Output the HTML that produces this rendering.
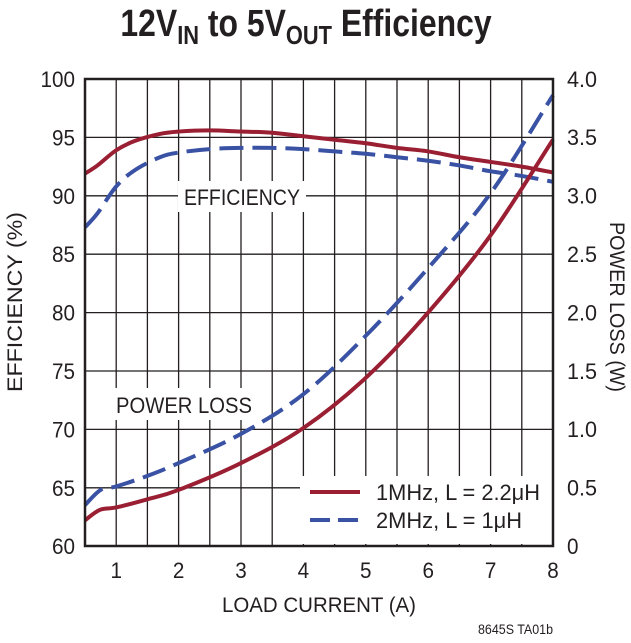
<!DOCTYPE html>
<html><head><meta charset="utf-8"><style>
body{margin:0;background:#fff;width:631px;height:638px;overflow:hidden}
svg text{font-family:"Liberation Sans Narrow","Liberation Sans",sans-serif;fill:#231f20}
</style></head><body>
<svg id="s" width="631" height="638" xmlns="http://www.w3.org/2000/svg">
<text transform="translate(306,36) scale(0.84,1)" text-anchor="middle" font-size="38" font-weight="bold">12V<tspan font-size="26" dy="8">IN</tspan><tspan dy="-8"> to 5V</tspan><tspan font-size="26" dy="8">OUT</tspan><tspan dy="-8"> Efficiency</tspan></text>
<g id="grid" stroke="#231f20" stroke-width="1.3"></g>
<g id="ticks" font-size="22"></g>
<rect x="178" y="181" width="128" height="31" fill="#fff"/>
<text x="184" y="205" font-size="22" textLength="116" lengthAdjust="spacingAndGlyphs">EFFICIENCY</text>
<rect x="108" y="388" width="150" height="32" fill="#fff"/>
<text x="116" y="413" font-size="22" textLength="136" lengthAdjust="spacingAndGlyphs">POWER LOSS</text>
<g id="curves" fill="none" stroke-width="4"></g>
<rect x="300" y="476" width="252" height="68" fill="#fff"/>
<line x1="310" y1="492" x2="360" y2="492" stroke="#9a1f33" stroke-width="4"/>
<line x1="310" y1="520" x2="360" y2="520" stroke="#3a52a4" stroke-width="4" stroke-dasharray="20,8"/>
<text x="376" y="500" font-size="22" textLength="164" lengthAdjust="spacingAndGlyphs">1MHz, L = 2.2μH</text>
<text x="376" y="528" font-size="22" textLength="146" lengthAdjust="spacingAndGlyphs">2MHz, L = 1μH</text>
<g id="frame"></g>
<text x="222" y="612" font-size="21" textLength="194" lengthAdjust="spacingAndGlyphs">LOAD CURRENT (A)</text>
<text transform="translate(22,392) rotate(-90)" font-size="21" textLength="180" lengthAdjust="spacingAndGlyphs">EFFICIENCY (%)</text>
<text transform="translate(610,222) rotate(90)" font-size="21" textLength="170" lengthAdjust="spacingAndGlyphs">POWER LOSS (W)</text>
<text x="478" y="634" font-size="14" textLength="75" lengthAdjust="spacingAndGlyphs">8645S TA01b</text>
</svg>
<script>
const L=85,R=553,T=79,B=546,NS="http://www.w3.org/2000/svg";
const X=i=>L+(i-0.5)*62.4, YE=e=>T+(100-e)*11.68, YP=p=>B-p*116.8;
function el(p,t,a,txt){const e=document.createElementNS(NS,t);for(const k in a)e.setAttribute(k,a[k]);if(txt!=null)e.textContent=txt;document.getElementById(p).appendChild(e);return e;}
for(let i=1;i<=7.5;i+=0.5)el("grid","line",{x1:X(i),x2:X(i),y1:T,y2:B});
for(let e=65;e<100;e+=5)el("grid","line",{x1:L,x2:R,y1:YE(e),y2:YE(e)});
const W=s=>s.length*11.5;
for(let i=1;i<=8;i++){const s=""+i;el("ticks","text",{x:X(i)-W(s)/2,y:B+32,textLength:W(s),lengthAdjust:"spacingAndGlyphs"},s);}
for(let e=60;e<=100;e+=5){const s=""+e;el("ticks","text",{x:L-10-W(s),y:YE(e)+8,textLength:W(s),lengthAdjust:"spacingAndGlyphs"},s);}
for(let p=0;p<=4;p+=0.5){const s=p==0?"0":p.toFixed(1);el("ticks","text",{x:R+14,y:YP(p)+8,textLength:s.length==1?11.5:30,lengthAdjust:"spacingAndGlyphs"},s);}
el("frame","rect",{x:L,y:T,width:R-L,height:B-T,fill:"none",stroke:"#231f20","stroke-width":2.5});
function path(pts,col,dash){
 const P=pts;let d="M"+P[0][0]+","+P[0][1];
 for(let i=0;i<P.length-1;i++){const p0=P[Math.max(i-1,0)],p1=P[i],p2=P[i+1],p3=P[Math.min(i+2,P.length-1)];
 d+=" C"+(p1[0]+(p2[0]-p0[0])/6)+","+(p1[1]+(p2[1]-p0[1])/6)+" "+(p2[0]-(p3[0]-p1[0])/6)+","+(p2[1]-(p3[1]-p1[1])/6)+" "+p2[0]+","+p2[1];}
 const a={d:d,stroke:col};if(dash)a["stroke-dasharray"]="24,9";el("curves","path",a);}
const re=[[0.5,91.9],[0.7,92.6],[1,93.9],[1.3,94.7],[1.7,95.3],[2,95.5],[2.5,95.6],[3,95.5],[3.5,95.4],[4,95.1],[4.5,94.8],[5,94.5],[5.5,94.1],[6,93.8],[6.5,93.3],[7,92.9],[7.5,92.5],[8,92.0]];
const be=[[0.5,87.3],[0.7,88.5],[1,90.8],[1.3,92.2],[1.7,93.3],[2,93.7],[2.5,94.0],[3,94.1],[3.5,94.1],[4,94.0],[4.5,93.8],[5,93.6],[5.5,93.3],[6,93.0],[6.5,92.6],[7,92.1],[7.5,91.7],[8,91.2]];
const rp=[[0.5,0.22],[0.74,0.31],[1,0.33],[1.5,0.4],[2,0.48],[3,0.71],[4,1.01],[5,1.44],[6,2.0],[7,2.66],[8,3.48]];
const bp=[[0.5,0.35],[0.75,0.48],[1,0.51],[1.5,0.6],[2,0.71],[3,0.96],[4,1.3],[5,1.8],[6,2.38],[7,3.02],[8,3.86]];
path(re.map(q=>[X(q[0]),YE(q[1])]),"#9a1f33");
path(be.map(q=>[X(q[0]),YE(q[1])]),"#3a52a4",1);
path(rp.map(q=>[X(q[0]),YP(q[1])]),"#9a1f33");
path(bp.map(q=>[X(q[0]),YP(q[1])]),"#3a52a4",1);
</script>
</body></html>
